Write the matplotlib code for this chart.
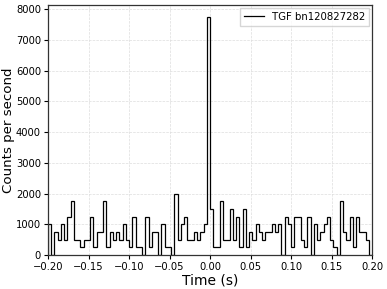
import numpy as np
import matplotlib
matplotlib.use("Agg")
import matplotlib.pyplot as plt

# Light curve of the TGF, 4 ms bins from -0.2 s to 0.2 s (counts per second)
t_start = -0.2
t_stop = 0.2
n_bins = 100
rate = [
    1000, 0, 750, 500, 1000, 500, 1250, 1750, 500, 500,
    250, 500, 500, 1250, 250, 750, 750, 1750, 250, 750,
    500, 750, 500, 1000, 500, 250, 1250, 250, 250, 0,
    1250, 250, 750, 750, 0, 1000, 250, 250, 0, 2000,
    500, 1000, 1250, 500, 500, 750, 500, 750, 1000, 7750,
    1500, 250, 250, 1750, 500, 500, 1500, 500, 1250, 250,
    1500, 250, 750, 500, 1000, 750, 500, 750, 750, 1000,
    750, 1000, 0, 1250, 1000, 250, 1250, 1250, 500, 250,
    1250, 0, 1000, 500, 750, 1000, 1250, 500, 250, 0,
    1750, 750, 500, 1250, 250, 1250, 750, 750, 500, 0,
]
label = "TGF bn120827282"

edges = np.linspace(t_start, t_stop, n_bins + 1)

fig, ax = plt.subplots(figsize=(3.87, 2.89), dpi=100)
fig.subplots_adjust(left=0.124, right=0.962, bottom=0.117, top=0.983)

ax.stairs(rate, edges, color="black", linewidth=0.9, label=label)

ax.set_xlim(t_start, t_stop)
ax.set_ylim(0, 8137)
ax.set_xticks(np.arange(-0.2, 0.2001, 0.05))
ax.set_yticks(np.arange(0, 8001, 1000))
ax.tick_params(labelsize=7.2, length=3, width=0.8, pad=2)
ax.grid(True, linestyle="--", linewidth=0.5, color="#dddddd")
ax.set_axisbelow(True)
for s in ax.spines.values():
    s.set_color("#333333")
    s.set_linewidth(0.9)

ax.set_xlabel("Time (s)", fontsize=10, labelpad=1)
ax.set_ylabel("Counts per second", fontsize=9.6, labelpad=1)
ax.legend(loc="upper right", fontsize=7.3, frameon=True, handlelength=2.0,
          borderaxespad=0.3, fancybox=False, edgecolor="#cccccc")

plt.savefig("out.png", dpi=100)
